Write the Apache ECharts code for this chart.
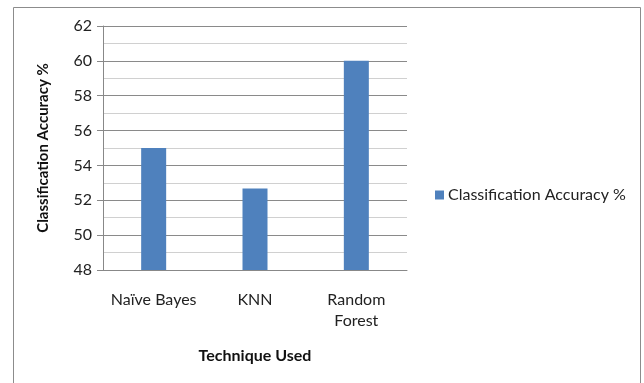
<!DOCTYPE html>
<html><head><meta charset="utf-8">
<script src="https://cdn.jsdelivr.net/npm/echarts@6/dist/echarts.min.js"></script>
<style>html,body{margin:0;padding:0;background:#fff}#c{width:644px;height:383px}</style>
</head><body><div id="c"></div>
<script>
const categories = ["Naïve Bayes", "KNN", "Random\nForest"];
const accuracy = [55, 52.67, 60];
const seriesName = "Classification Accuracy %";
const yTitle = "Classification Accuracy %";
const xTitle = "Technique Used";
const FONT = "Lato, 'Open Sans', sans-serif";

const chart = echarts.init(document.getElementById('c'), null, {renderer: 'canvas'});
chart.setOption({
  backgroundColor: '#fff',
  animation: false,
  textStyle: {fontFamily: FONT},
  graphic: [{
    type: 'rect', shape: {x: 13.5, y: 7.5, width: 627, height: 400},
    style: {fill: 'none', stroke: '#8c8c8c', lineWidth: 1}, silent: true, z: -10
  }],
  grid: {left: 103, right: 237, top: 26, bottom: 113, containLabel: false},
  legend: {
    show: true, left: 435, top: 187, padding: 0, itemWidth: 9, itemHeight: 9, itemGap: 4,
    icon: 'rect',
    textStyle: {fontFamily: FONT, fontSize: 16, color: '#222', padding: [0, 0, 0, -1]},
    data: [seriesName]
  },
  xAxis: {
    type: 'category', data: categories,
    axisLine: {lineStyle: {color: '#888'}},
    axisTick: {show: false},
    axisLabel: {interval: 0, hideOverlap: false, fontFamily: FONT, fontSize: 16, color: '#222', margin: 19, lineHeight: 21},
    name: xTitle, nameLocation: 'middle', nameGap: 78,
    nameTextStyle: {fontFamily: FONT, fontSize: 16, fontWeight: 'bold', color: '#111'}
  },
  yAxis: {
    type: 'value', min: 48, max: 62, interval: 2,
    axisLine: {show: true, lineStyle: {color: '#888'}},
    axisTick: {show: true, length: 6, lineStyle: {color: '#888'}},
    axisLabel: {fontFamily: FONT, fontSize: 16, color: '#222', margin: 11},
    splitLine: {show: true, lineStyle: {color: '#8a8a8a'}},
    minorTick: {show: false, splitNumber: 2},
    minorSplitLine: {show: true, lineStyle: {color: '#d0d0d0'}},
    name: yTitle, nameLocation: 'middle', nameGap: 52, nameRotate: 90,
    nameTextStyle: {fontFamily: FONT, fontSize: 15, fontWeight: 'bold', color: '#111'}
  },
  series: [{
    name: seriesName, type: 'bar', data: accuracy, barWidth: 25,
    itemStyle: {color: '#4F81BD'}
  }]
});
</script></body></html>
